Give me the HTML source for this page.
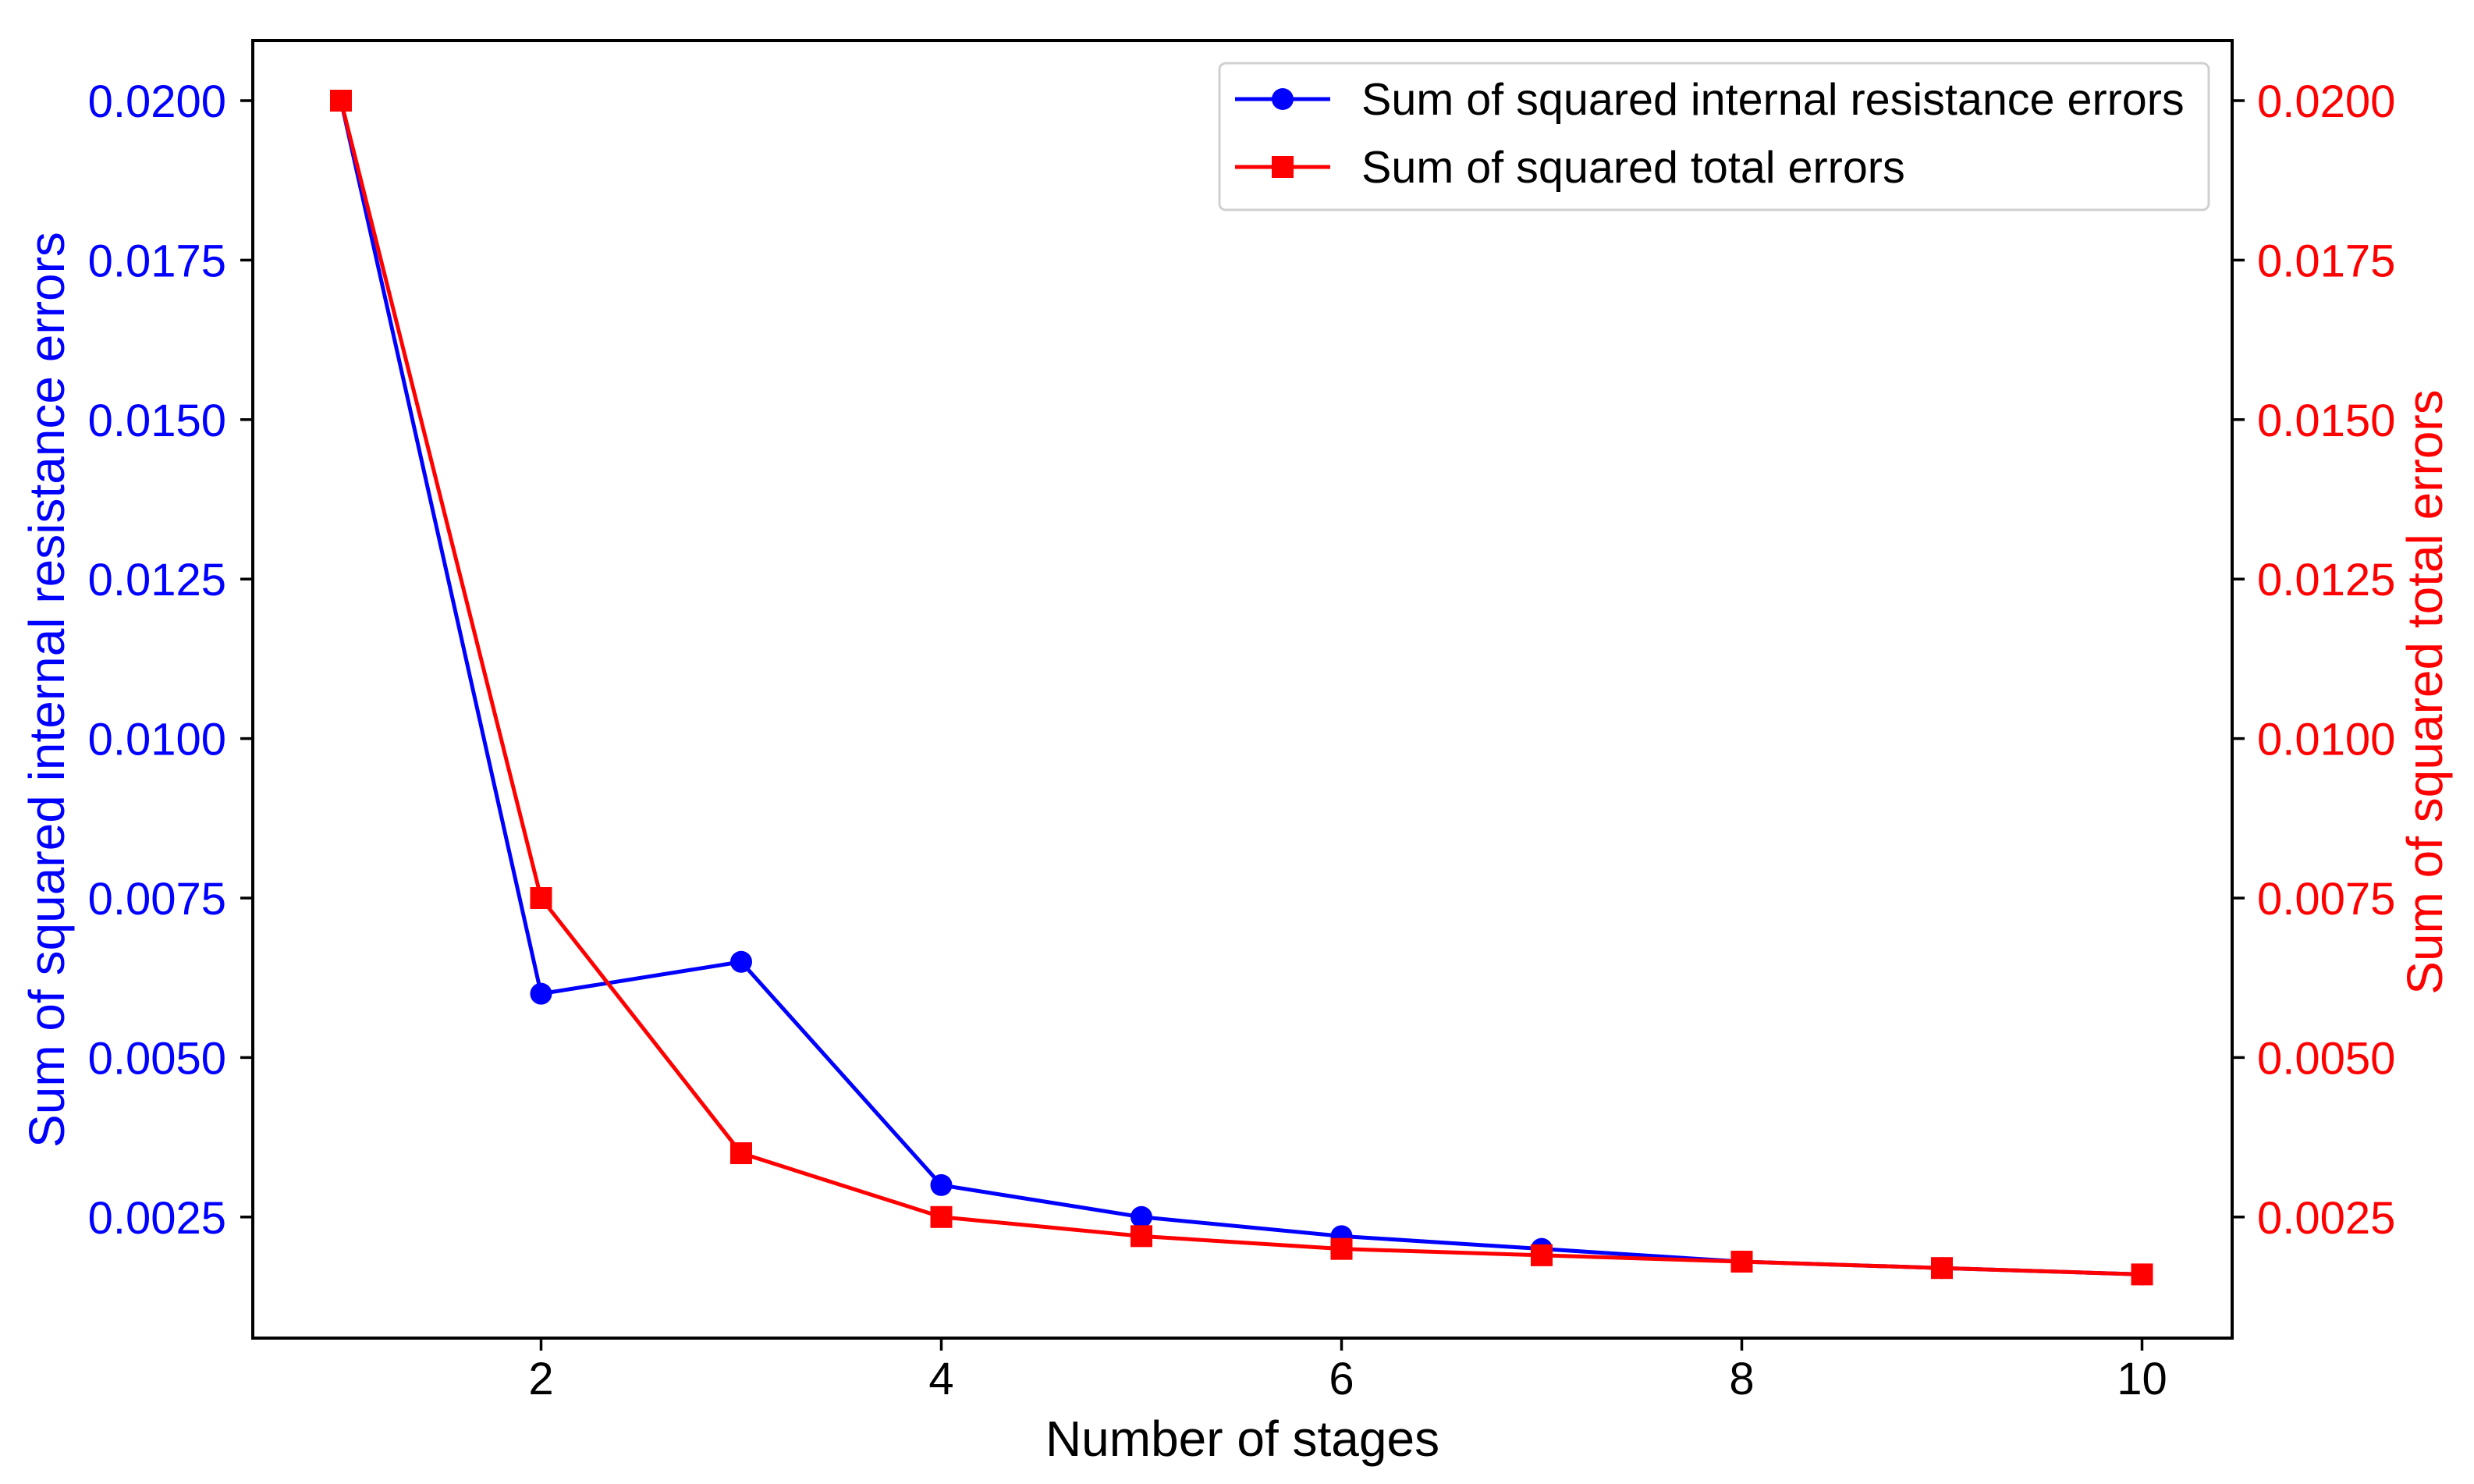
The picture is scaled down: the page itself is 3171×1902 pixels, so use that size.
<!DOCTYPE html>
<html><head><meta charset="utf-8"><style>
html,body{margin:0;padding:0;background:#fff;}
svg{display:block;font-family:"Liberation Sans",Arial,sans-serif;}
</style></head><body>
<svg id="chart" width="3171" height="1902" viewBox="0 0 3171 1902" xmlns="http://www.w3.org/2000/svg">
<g id="plot"></g>
<g id="axes"></g>
</svg>
<script>
const stages = [1,2,3,4,5,6,7,8,9,10];
const internalErrors = [0.02,0.006,0.0065,0.003,0.0025,0.0022,0.002,0.0018,0.0017,0.0016];
const totalErrors = [0.02,0.0075,0.0035,0.0025,0.0022,0.002,0.0019,0.0018,0.0017,0.0016];
const xTicks = [2,4,6,8,10];
const yTicks = [0.0025,0.005,0.0075,0.01,0.0125,0.015,0.0175,0.02];
const yTickLabels = ["0.0025","0.0050","0.0075","0.0100","0.0125","0.0150","0.0175","0.0200"];

const L=324,R=2861,T=52,B=1715;
const X0=437,XS=256.5;
function xs(v){return X0+(v-1)*XS;}
const Y20=129,YS=204.4/0.0025;
function ys(v){return Y20+(0.02-v)*YS;}
const NS="http://www.w3.org/2000/svg";
function mk(tag,attrs,parent,text){const e=document.createElementNS(NS,tag);for(const k in attrs)e.setAttribute(k,attrs[k]);if(text!==undefined)e.textContent=text;parent.appendChild(e);return e;}
const plot=document.getElementById('plot'),axes=document.getElementById('axes');

function series(vals,color,marker,name){
  const g=mk('g',{},plot);
  
  
  const pts=stages.map((s,i)=>xs(s)+','+ys(vals[i])).join(' ');
  const pl=mk('polyline',{points:pts,fill:'none',stroke:color,'stroke-width':5,'stroke-linejoin':'round'},g);
  
  
  stages.forEach((s,i)=>{
    let m;
    if(marker==='circle') m=mk('circle',{cx:xs(s),cy:ys(vals[i]),r:14,fill:color},g);
    else m=mk('rect',{x:xs(s)-14,y:ys(vals[i])-14,width:28,height:28,fill:color},g);
    
    
  });
}
series(internalErrors,'#0000ff','circle','internal-resistance');
series(totalErrors,'#ff0000','square','total');

const fr=mk('rect',{x:L,y:T,width:R-L,height:B-T,fill:'none',stroke:'#000','stroke-width':4},axes);



xTicks.forEach(v=>{
  const t=mk('line',{x1:xs(v),x2:xs(v),y1:B,y2:B+16,stroke:'#000','stroke-width':3.5},axes);
  
  
  const l=mk('text',{x:xs(v),y:B+72,'text-anchor':'middle','font-size':58,fill:'#000'},axes,String(v));
  
  
});
yTicks.forEach((v,i)=>{
  const y=ys(v);
  const t1=mk('line',{x1:L-16,x2:L,y1:y,y2:y,stroke:'#000','stroke-width':3.5},axes);
  
  
  const l1=mk('text',{x:L-34,y:y+21,'text-anchor':'end','font-size':58,fill:'#0000ff'},axes,yTickLabels[i]);
  
  
  const t2=mk('line',{x1:R,x2:R+16,y1:y,y2:y,stroke:'#000','stroke-width':3.5},axes);
  
  
  const l2=mk('text',{x:R+32,y:y+21,'text-anchor':'start','font-size':58,fill:'#ff0000'},axes,yTickLabels[i]);
  
  
});
const xl=mk('text',{x:(L+R)/2,y:1866,'text-anchor':'middle','font-size':64,fill:'#000'},axes,'Number of stages');


const yl=mk('text',{x:0,y:0,transform:'translate(82,884) rotate(-90)','text-anchor':'middle','font-size':64,fill:'#0000ff'},axes,'Sum of squared internal resistance errors');


const yr=mk('text',{x:0,y:0,transform:'translate(3130,887) rotate(-90)','text-anchor':'middle','font-size':64,fill:'#ff0000'},axes,'Sum of squared total errors');



const lg=mk('g',{},axes);


const lb=mk('rect',{x:1563,y:81,width:1268,height:188,rx:8,fill:'#fff',stroke:'#d0d0d0','stroke-width':3},lg);


[['#0000ff','circle','Sum of squared internal resistance errors',127],['#ff0000','square','Sum of squared total errors',214]].forEach(e=>{
  const g=mk('g',{},lg);
  
  
  mk('line',{x1:1583,x2:1705,y1:e[3],y2:e[3],stroke:e[0],'stroke-width':5},g);
  if(e[1]==='circle') mk('circle',{cx:1644,cy:e[3],r:14,fill:e[0]},g);
  else mk('rect',{x:1630,y:e[3]-14,width:28,height:28,fill:e[0]},g);
  const t=mk('text',{x:1745,y:e[3]+20,'font-size':57.5,fill:'#000'},g,e[2]);
  
  
});
</script>
</body></html>
